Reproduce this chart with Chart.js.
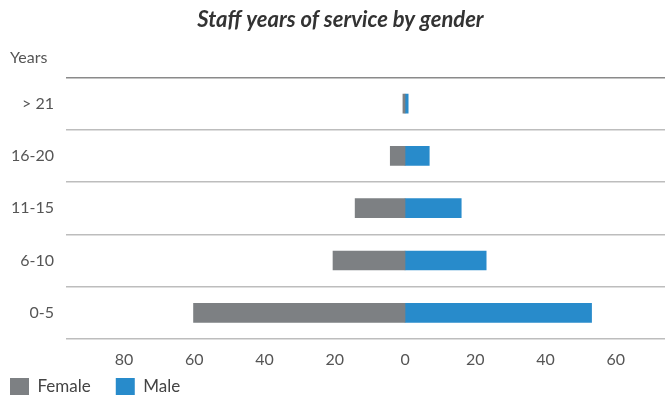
<!DOCTYPE html>
<html><head><meta charset="utf-8">
<script src="https://cdn.jsdelivr.net/npm/chart.js@4"></script>
<style>html,body{margin:0;padding:0;background:#fff}#w{width:665px;height:395px}</style>
</head><body><div id="w"><canvas id="c"></canvas></div>
<script>
const categories = ["> 21", "16-20", "11-15", "6-10", "0-5"];
const female = [0.6, 4.2, 14.2, 20.5, 60.2];
const male = [0.9, 6.9, 16.0, 23.1, 53.1];
const tickValues = [-80, -60, -40, -20, 0, 20, 40, 60];
const titleText = "Staff years of service by gender";
const yAxisTitle = "Years";

const font = "Lato";
const yTitlePlugin = {
  id: 'yTitle',
  afterLayout(chart) {
    const lg = chart.legend;
    lg.left -= 15; lg.right -= 15;
    lg.top = 378 - 25;
    chart.titleBlock.left += 16;
  },
  afterDraw(chart) {
    const ctx = chart.ctx;
    ctx.save();
    ctx.font = "16px " + font;
    ctx.fillStyle = "#555";
    ctx.textAlign = "left";
    ctx.textBaseline = "middle";
    ctx.fillText(yAxisTitle, 10, chart.chartArea.top - 20);
    ctx.restore();
  }
};

new Chart(document.getElementById('c'), {
  type: 'bar',
  data: {
    labels: categories,
    datasets: [
      { label: 'Female', data: female.map(v => -v), backgroundColor: '#7d8083', barThickness: 19 },
      { label: 'Male', data: male, backgroundColor: '#288bcb', barThickness: 19 }
    ]
  },
  options: {
    indexAxis: 'y',
    responsive: true,
    maintainAspectRatio: false,
    animation: false,
    layout: { padding: { left: 0, right: 0, top: 0, bottom: 0 } },
    scales: {
      x: {
        stacked: true,
        min: -96.5, max: 74,
        afterBuildTicks(scale) { scale.ticks = tickValues.map(v => ({ value: v })); },
        grid: { display: false, drawTicks: false },
        border: { display: false },
        ticks: { callback: v => Math.abs(v), color: '#555', font: { family: font, size: 16 }, padding: 11, maxRotation: 0, autoSkip: false },
        afterFit(scale) { scale.height = 37; }
      },
      y: {
        stacked: true,
        grid: {
          offset: true, drawTicks: false,
          color: ctx => (ctx.index === 0 || ctx.index === categories.length) ? '#8a8a8a' : '#bdbdbd',
          lineWidth: 1.5
        },
        border: { display: false },
        ticks: { color: '#555', font: { family: font, size: 16 }, padding: 12 },
        afterFit(scale) { scale.width = 66; }
      }
    },
    plugins: {
      title: {
        display: true, text: titleText, color: '#333',
        font: { family: font, size: 22, style: 'italic', weight: 'bold' },
        padding: { top: 7, bottom: 44 }
      },
      legend: {
        position: 'bottom', align: 'start', maxHeight: 19,
        labels: { boxWidth: 19, boxHeight: 17, color: '#444', font: { family: font, size: 17 }, padding: 25 }
      },
      tooltip: { enabled: false }
    }
  },
  plugins: [yTitlePlugin]
});
</script></body></html>
